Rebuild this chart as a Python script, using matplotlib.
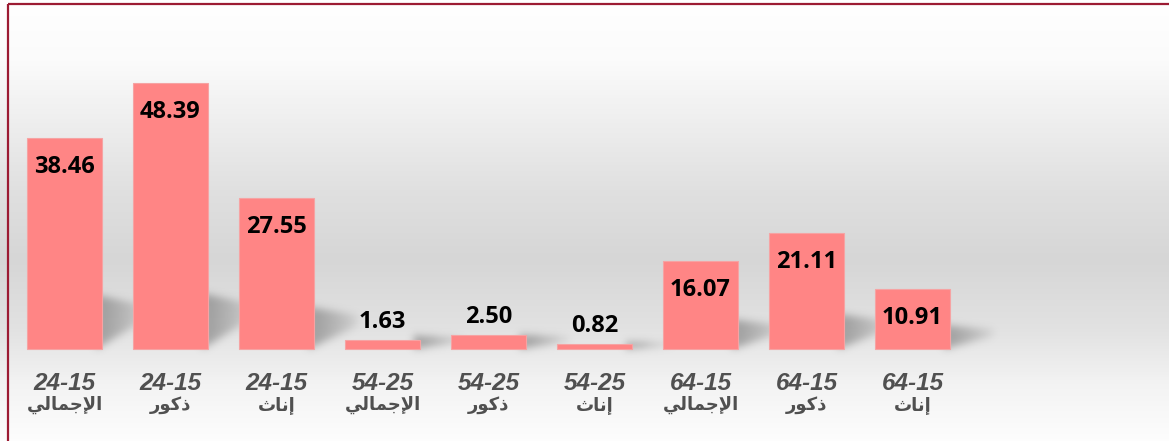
import numpy as np
import matplotlib
matplotlib.use("Agg")
import matplotlib.pyplot as plt
from matplotlib.colors import LinearSegmentedColormap
from matplotlib.path import Path

# ---------------- data ----------------
age_groups = ["24-15", "24-15", "24-15", "54-25", "54-25", "54-25", "64-15", "64-15", "64-15"]
sex_labels = ["الإجمالي", "ذكور", "إناث", "الإجمالي", "ذكور", "إناث", "الإجمالي", "ذكور", "إناث"]
values = [38.46, 48.39, 27.55, 1.63, 2.50, 0.82, 16.07, 21.11, 10.91]

# ---------------- minimal Arabic shaping for display ----------------
FORMS = {  # isolated, final, initial, medial
    'ا': ('\uFE8D', '\uFE8E', None, None),
    'إ': ('\uFE87', '\uFE88', None, None),
    'ل': ('\uFEDD', '\uFEDE', '\uFEDF', '\uFEE0'),
    'ج': ('\uFE9D', '\uFE9E', '\uFE9F', '\uFEA0'),
    'م': ('\uFEE1', '\uFEE2', '\uFEE3', '\uFEE4'),
    'ي': ('\uFEF1', '\uFEF2', '\uFEF3', '\uFEF4'),
    'ذ': ('\uFEAB', '\uFEAC', None, None),
    'ك': ('\uFED9', '\uFEDA', '\uFEDB', '\uFEDC'),
    'و': ('\uFEED', '\uFEEE', None, None),
    'ر': ('\uFEAD', '\uFEAE', None, None),
    'ن': ('\uFEE5', '\uFEE6', '\uFEE7', '\uFEE8'),
    'ث': ('\uFE99', '\uFE9A', '\uFE9B', '\uFE9C'),
}
LAM_ALEF = {'ا': ('\uFEFB', '\uFEFC'), 'إ': ('\uFEF9', '\uFEFA')}


def shape(s):
    chars = list(s)
    units = []
    i = 0
    while i < len(chars):
        if chars[i] == 'ل' and i + 1 < len(chars) and chars[i + 1] in LAM_ALEF:
            units.append(('LA', chars[i + 1]))
            i += 2
        else:
            units.append(('C', chars[i]))
            i += 1

    def joins_next(u):
        if u[0] == 'LA':
            return False
        f = FORMS.get(u[1])
        return f is not None and f[2] is not None

    def joins_prev(u):
        return u[0] == 'LA' or u[1] in FORMS

    out = []
    for k, u in enumerate(units):
        prev = units[k - 1] if k > 0 else None
        nxt = units[k + 1] if k + 1 < len(units) else None
        r = prev is not None and joins_next(prev) and joins_prev(u)
        l = nxt is not None and joins_next(u) and joins_prev(nxt)
        if u[0] == 'LA':
            g = LAM_ALEF[u[1]][1 if r else 0]
        elif u[1] in FORMS:
            f = FORMS[u[1]]
            if r and l:
                g = f[3]
            elif r:
                g = f[1]
            elif l:
                g = f[2]
            else:
                g = f[0]
        else:
            g = u[1]
        out.append(g)
    return ''.join(reversed(out))


# ---------------- figure ----------------
W, H = 1169, 441
fig = plt.figure(figsize=(W / 100, H / 100), dpi=100)

# background gradient
bg = fig.add_axes([0, 0, 1, 1], zorder=0)
bg.set_axis_off()
stops = [(0.0, '#ffffff'), (60 / 441, '#fbfbfb'), (190 / 441, '#e0e0e0'),
         (260 / 441, '#d6d6d6'), (330 / 441, '#e2e2e2'), (385 / 441, '#f3f3f3'),
         (1.0, '#fdfdfd')]
cmap = LinearSegmentedColormap.from_list('bg', stops)
grad = np.linspace(0, 1, 441).reshape(-1, 1)
bg.imshow(grad, aspect='auto', cmap=cmap, extent=[0, 1, 0, 1], origin='upper')
bg.set_xlim(0, 1)
bg.set_ylim(0, 1)

# main axes
ax = fig.add_axes([0, 0, 1, 1], zorder=1)
ax.patch.set_alpha(0)
ax.set_axis_off()
x0_px, step_px = 64.5, 106.0
base_px, scale = 349.0, 5.49
ax.set_xlim((0 - x0_px) / step_px, (W - x0_px) / step_px)
ax.set_ylim((base_px - H) / scale, base_px / scale)

x = np.arange(len(values))
bw = 75 / 106

# soft blurred shadows behind bars (computed in display space from bar geometry)
yy, xx = np.mgrid[0:H, 0:W]
px = xx.ravel() + 0.5
py = (H - yy.ravel()) - 0.5
pts = np.column_stack([px, py])
mask = np.zeros(H * W)
for xi, v in zip(x, values):
    (R, B), = ax.transData.transform([(xi + bw / 2, 0.0)])
    (_, T), = ax.transData.transform([(xi, v)])
    h = T - B
    s = min(12 + 0.2 * h, 56, 1.6 * h)
    L = 44
    poly = Path([(R - 6, B), (R + L, B + 0.55 * s), (R + L, B + 0.8 * s), (R - 6, B + s), (R - 6, B)])
    inside = poly.contains_points(pts).astype(float)
    fade = np.clip(1 - (px - R) / (L + 4), 0, 1) ** 0.7
    mask = np.maximum(mask, inside * fade)
mask = mask.reshape(H, W)
sig = 4.0
kx = np.arange(-12, 13)
kern = np.exp(-kx ** 2 / (2 * sig ** 2))
kern /= kern.sum()
mask = np.apply_along_axis(lambda r: np.convolve(r, kern, mode='same'), 1, mask)
mask = np.apply_along_axis(lambda c: np.convolve(c, kern, mode='same'), 0, mask)
shadow = np.zeros((H, W, 4))
shadow[..., :3] = 0.42
shadow[..., 3] = np.clip(mask * 0.55, 0, 1)
bg.imshow(shadow, aspect='auto', extent=[0, 1, 0, 1], origin='upper', zorder=2)

# border (left and top)
bc = '#9c1b33'
bg.plot([7.5 / W, 7.5 / W], [0, 1 - 3.5 / H], color=bc, lw=1.6, solid_capstyle='butt', zorder=3)
bg.plot([7.5 / W, 1], [1 - 3.5 / H, 1 - 3.5 / H], color=bc, lw=1.6, solid_capstyle='butt', zorder=3)

ax.bar(x, values, width=bw, color='#ff8585', edgecolor='#f6a3a3', linewidth=0.8, zorder=2)

for xi, v in zip(x, values):
    if v > 5:
        ax.text(xi, v - 29 / scale, f"{v:.2f}", ha='center', va='center',
                fontsize=17, fontweight='bold', family='Open Sans', color='black', zorder=3)
    else:
        ax.text(xi, v + 18 / scale, f"{v:.2f}", ha='center', va='center',
                fontsize=17, fontweight='bold', family='Open Sans', color='black', zorder=3)

for xi, a, s in zip(x, age_groups, sex_labels):
    ax.text(xi, (base_px - 383) / scale, a, ha='center', va='center', fontsize=17.5,
            fontweight='bold', style='italic', family='Liberation Sans', color='#505050', zorder=3)
    ax.text(xi, (base_px - 405) / scale, shape(s), ha='center', va='center', fontsize=13,
            fontweight='bold', family=['DejaVu Sans'], color='#505050', zorder=3)

fig.savefig('out.png', dpi=100)
